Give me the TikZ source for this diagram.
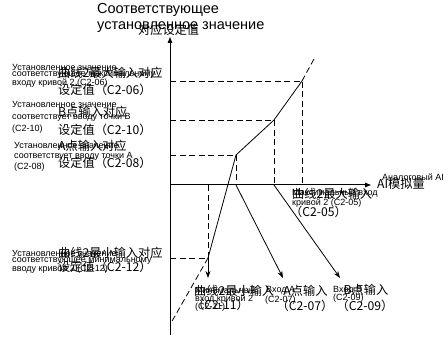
\documentclass[tikz,border=0pt]{standalone}
\usepackage{fontspec}
\setmainfont{Liberation Sans}
\newfontfamily\cjk{Noto Sans CJK SC}
\usetikzlibrary{arrows.meta}
\begin{document}
\begin{tikzpicture}[x=1pt,y=-1pt,
  ru/.style={font=\fontsize{9}{10}\selectfont, inner sep=0pt, anchor=west},
  zh/.style={font=\cjk\fontsize{12.2}{13}\selectfont, inner sep=0pt, anchor=west},
  zhc/.style={font=\cjk\fontsize{12.2}{13}\selectfont, inner sep=0pt, anchor=center},
  ttl/.style={font=\fontsize{14.5}{16}\selectfont, inner sep=0pt, anchor=west},
  axisline/.style={line width=1pt, -{Triangle[length=6pt,width=4.5pt]}},
  guide/.style={line width=0.9pt, dash pattern=on 6pt off 3.5pt},
  curveline/.style={line width=0.8pt},
  pointer/.style={line width=0.8pt, -{Stealth[length=7pt,width=5pt]}}]
\useasboundingbox (0,0) rectangle (448,344);
\fill[white] (0,0) rectangle (448,344);

% key points
\coordinate (O) at (170,185);
\coordinate (ytop) at (170,37);
\coordinate (ybot) at (170,335);
\coordinate (xend) at (371,185);
\coordinate (Plow) at (171,323);
\coordinate (P12) at (208,258);
\coordinate (PA) at (236,155);
\coordinate (PB) at (274,120);
\coordinate (P06) at (302,81);
\coordinate (Pext) at (314,59);
\coordinate (Y06) at (170,81);
\coordinate (YB) at (170,120);
\coordinate (YA) at (170,155);
\coordinate (Y12) at (170,258);
\coordinate (X11) at (208,185);
\coordinate (XA) at (236,185);
\coordinate (XB) at (274,185);
\coordinate (X05) at (302,185);
\coordinate (E11) at (208,278);
\coordinate (EA) at (283,278);
\coordinate (EB) at (340,278);

% axes
\draw[axisline] (ybot) -- (ytop);
\draw[axisline] (O) -- (xend);

% guides
\draw[guide] (Y06) -- (P06) -- (X05);
\draw[guide] (YB) -- (PB) -- (XB);
\draw[guide] (YA) -- (PA) -- (XA);
\draw[guide] (Y12) -- (P12) -- (X11);

% curve
\draw[curveline] (P12) -- (PA) -- (PB) -- (P06);
\draw[guide, line width=0.8pt] (P06) -- (Pext);
\draw[guide, line width=0.8pt] (P12) -- (Plow);

% pointers
\draw[pointer] (P12) -- (E11);
\draw[pointer] (XA) -- (EA);
\draw[pointer] (XB) -- (EB);

% title
\node[ttl] (t1) at (97,10) {Соответствующее};
\node[ttl] (t2) at (97,27) {установленное значение};
\node[zh] (t3) at (138,30) {对应设定值};

% left group 1
\node[ru] (r1a) at (12,67) {Установленное значение};
\node[ru] (r1b) at (12,75) {соответствующее максимальному};
\node[ru] (r1c) at (12,83) {входу кривой 2 (C2-06)};
\node[zh] (c1a) at (58,73) {曲线2最大输入对应};
\node[zh] (c1b) at (58,90) {设定值（C2-06）};

% left group 2
\node[ru] (r2a) at (12,104) {Установленное значение};
\node[ru] (r2b) at (12,117) {соответствует вводу точки B};
\node[ru] (r2c) at (12,129) {(C2-10)};
\node[zh] (c2a) at (58,112) {B点输入对应};
\node[zh] (c2b) at (58,130) {设定值（C2-10）};

% left group 3
\node[ru] (r3a) at (14,145) {Установленное значение};
\node[ru] (r3b) at (14,156) {соответствует вводу точки A};
\node[ru] (r3c) at (14,167) {(C2-08)};
\node[zh] (c3a) at (58,146) {A点输入对应};
\node[zh] (c3b) at (58,163) {设定值（C2-08）};

% left group 4
\node[ru] (r4a) at (12,253) {Установленное значение};
\node[ru] (r4b) at (12,261) {соответствующее минимальному};
\node[ru] (r4c) at (12,269) {вводу кривой 2 (C2-12)};
\node[zh] (c4a) at (58,253) {曲线2最小输入对应};
\node[zh] (c4b) at (58,267) {设定值（C2-12）};

% axis label
\node[ru] (r9) at (382,177) {Аналоговый AI};
\node[zh] (c9) at (377,184) {AI模拟量};

% C2-05 label
\node[ru] (r8a) at (292,193) {Максимальный вход};
\node[ru] (r8b) at (292,203) {кривой 2 (C2-05)};
\node[zh] (c8a) at (292,194) {曲线2最大输入};
\node[zh] (c8b) at (290,212) {（C2-05）};

% bottom labels
\node[ru] (r5a) at (195,290) {Минимальный};
\node[ru] (r5b) at (195,299) {вход кривой 2};
\node[ru] (r5c) at (195,307) {(C2-11)};
\node[zh] (c5a) at (194,291) {曲线2最小输入};
\node[zh] (c5b) at (192,305) {（C2-11）};

\node[ru] (r6a) at (266,290) {Вход A};
\node[ru] (r6b) at (265,300) {(C2-07)};
\node[zhc] (c6a) at (305.5,291) {A点输入};
\node[zhc] (c6b) at (305,306) {（C2-07）};

\node[ru] (r7a) at (333,290) {Вход B};
\node[ru] (r7b) at (333,298) {(C2-09)};
\node[zhc] (c7a) at (366,290) {B点输入};
\node[zhc] (c7b) at (365,306) {（C2-09）};
\end{tikzpicture}
\end{document}
